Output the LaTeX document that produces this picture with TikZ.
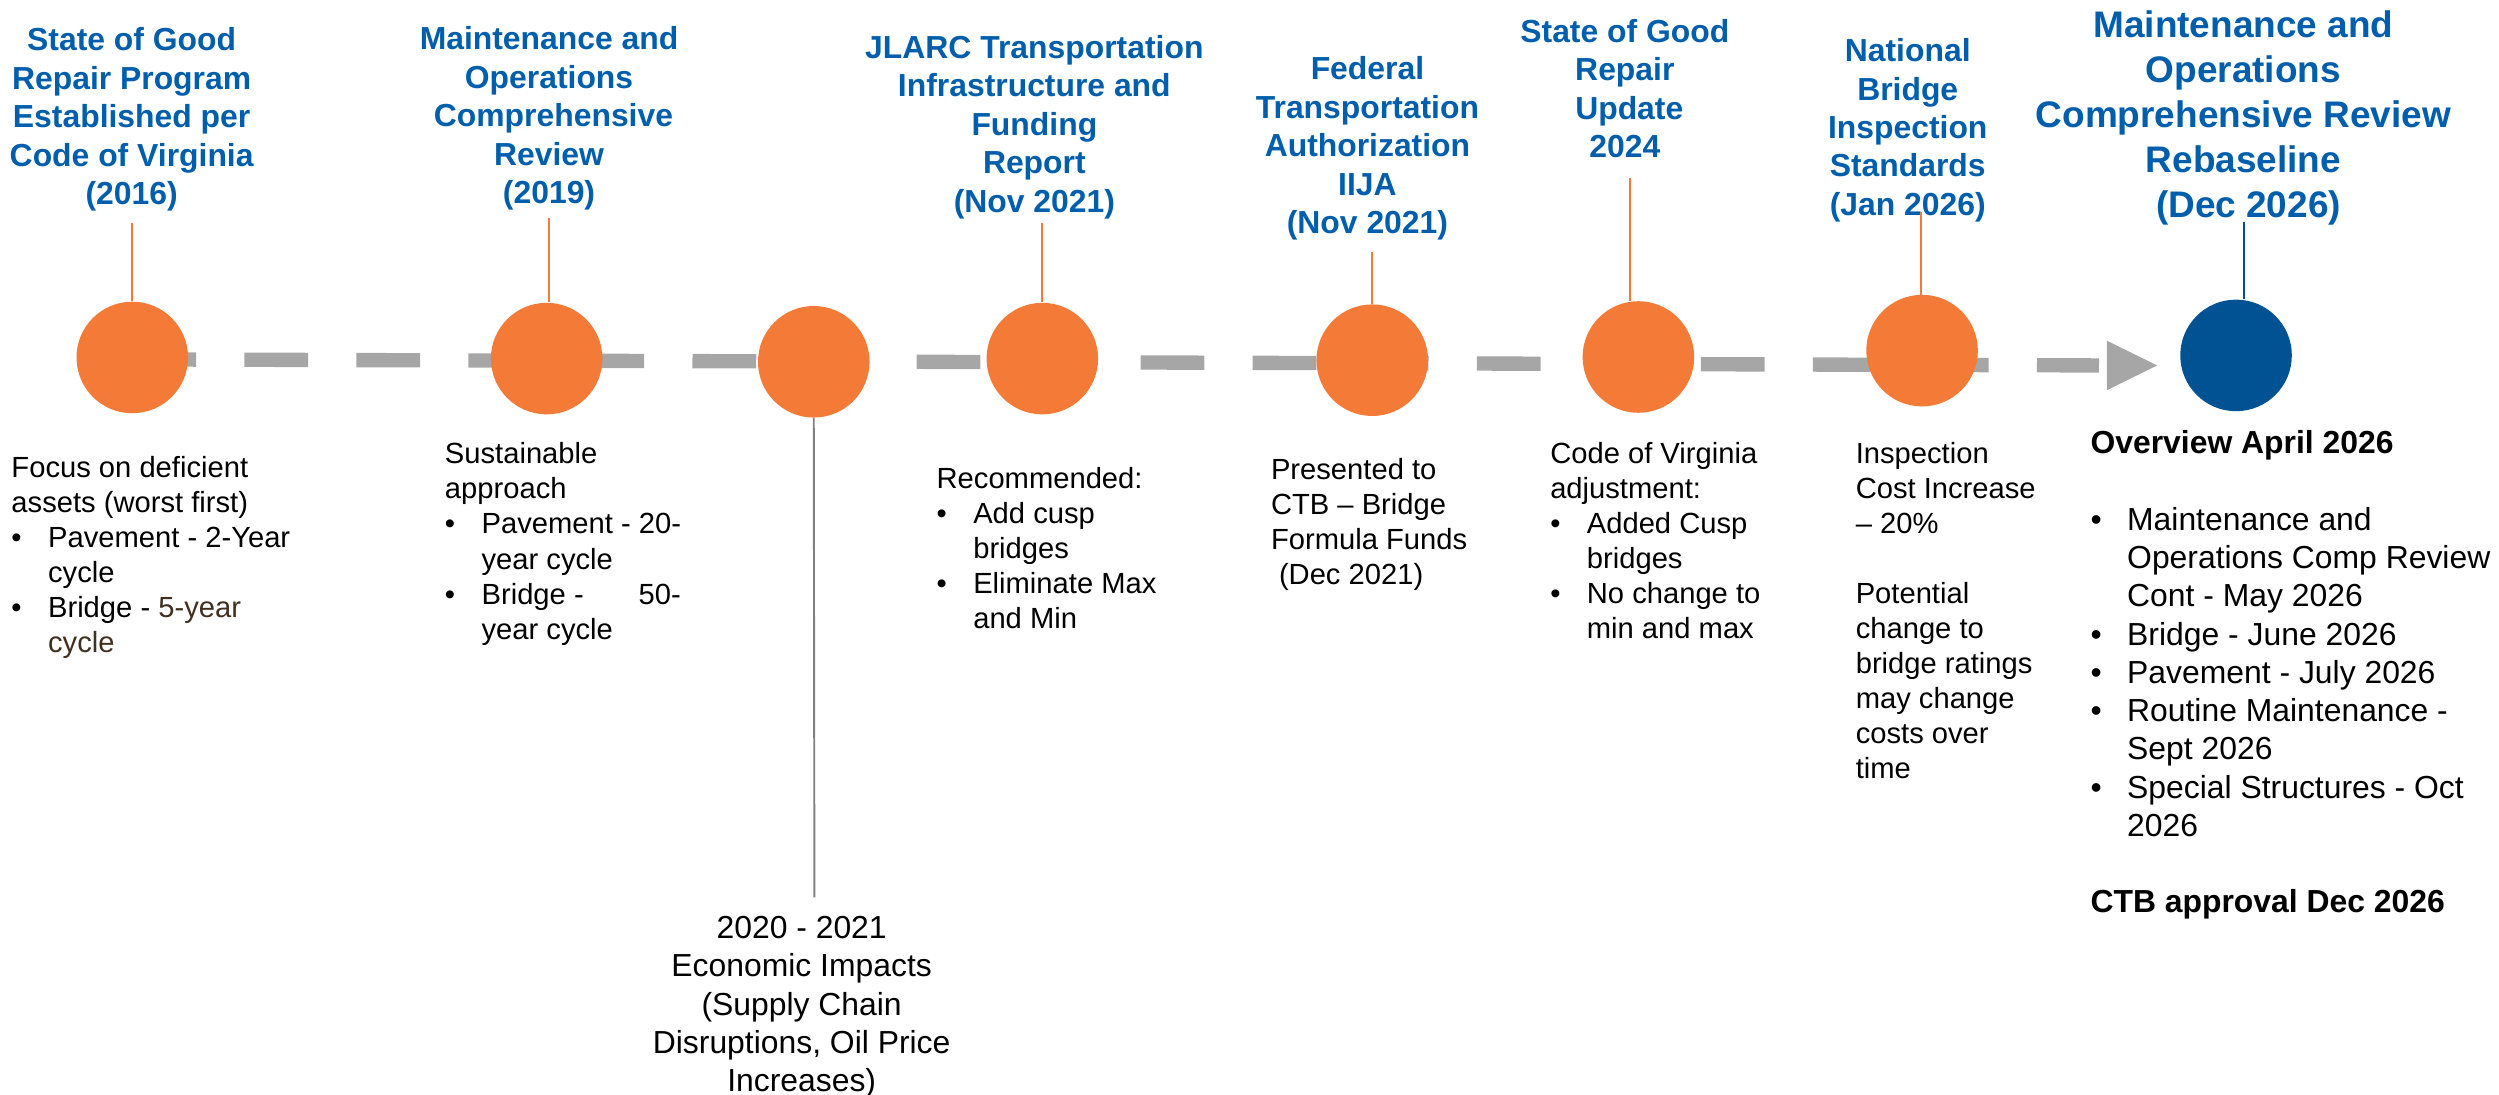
\documentclass[tikz,border=0pt]{standalone}
\usepackage{fontspec}
\setmainfont{Liberation Sans}
\definecolor{vorange}{RGB}{244,122,56}
\definecolor{vblue}{RGB}{0,82,147}
\definecolor{tblue}{RGB}{0,94,172}
\definecolor{tlgray}{RGB}{166,166,166}
\definecolor{stemgray}{RGB}{128,128,128}
\definecolor{vbrown}{RGB}{64,48,32}
\newcommand{\sa}{\rule{0pt}{0.8em}}
\newcommand{\lsp}{\hspace*{0.278em}}
\newcommand{\bitem}[1]{\makebox[23pt][l]{•}#1}
\newcommand{\cont}[1]{\hspace*{23pt}#1}
\tikzset{
  title/.style={font=\fontsize{20}{24.15}\selectfont\bfseries, text=tblue, align=center, anchor=north, inner sep=0pt},
  bigtitle/.style={font=\fontsize{23.2}{28.3}\selectfont\bfseries, text=tblue, align=center, anchor=north, inner sep=0pt},
  body/.style={font=\fontsize{18.3}{22}\selectfont, align=left, anchor=north west, inner sep=0pt},
  bodyL/.style={font=\fontsize{20}{24}\selectfont, align=left, anchor=north west, inner sep=0pt},
  bodyC/.style={font=\fontsize{20}{24}\selectfont, align=center, anchor=north, inner sep=0pt},
  dot/.style={circle, minimum size=70pt, inner sep=0pt, fill=vorange},
  stem/.style={vorange, line width=1.2pt},
  timeline/.style={tlgray, line width=9pt, dash pattern=on 40pt off 30.3pt},
}
\begin{document}
\begin{tikzpicture}[x=1pt,y=-1pt]
\useasboundingbox (0,0) rectangle (1568,687);
% timeline
\coordinate (tlA) at (83,225.5);
\coordinate (tlB) at (1317,229.3);
\draw[timeline] (tlA) -- (tlB);
\fill[tlgray] (tlB) ++(5,-15.5) -- ++(31.5,15.5) -- ++(-31.5,15.5) -- cycle;

% titles
\node[title] (t1) at (82.6,15.7) {\sa State of Good\\Repair Program\\Established per\\Code of Virginia\\(2016)};
\node[title] (t2) at (344.5,15) {\sa Maintenance and\\Operations\\\lsp Comprehensive\\Review\\(2019)};
\node[title] (t3) at (649,20.3) {\sa JLARC Transportation\\Infrastructure and\\Funding\\Report\\(Nov 2021)};
\node[title] (t4) at (858,33.8) {\sa Federal\\Transportation\\Authorization\\IIJA\\(Nov 2021)};
\node[title] (t5) at (1019.5,10.2) {\sa State of Good\\Repair\\\lsp Update\\2024};
\node[title] (t6) at (1197,22.4) {\sa National\\Bridge\\Inspection\\Standards\\(Jan 2026)};
\node[bigtitle] (t7) at (1407.6,4.6) {\sa Maintenance and\\Operations\\Comprehensive Review\\Rebaseline\\\lsp(Dec 2026)};

% stem tops
\coordinate (s1) at (82.6,140);
\coordinate (s2) at (344.5,137);
\coordinate (s3) at (654,140);
\coordinate (s4) at (861,158);
\coordinate (s5) at (1023,112);
\coordinate (s6) at (1205.6,133);
\coordinate (s7) at (1408,139);
\coordinate (s8) at (511,563);

% circles
\node[dot] (c1) at (83,224.3) {};
\node[dot] (c2) at (343,225) {};
\node[dot] (c3) at (510.6,227) {};
\node[dot] (c4) at (654,225) {};
\node[dot] (c5) at (861,226) {};
\node[dot] (c6) at (1028,224) {};
\node[dot] (c7) at (1206,220) {};
\node[dot, fill=vblue] (c8) at (1403,223) {};

% stems
\draw[stem] (s1) -- (s1 |- c1.north);
\draw[stem] (s2) -- (s2 |- c2.north);
\draw[stem] (s3) -- (s3 |- c4.north);
\draw[stem] (s4) -- (s4 |- c5.north);
\draw[stem] (s5) -- (s5 |- c6.north);
\draw[stem] (s6) -- (s6 |- c7.north);
\draw[vblue, line width=1.2pt] (s7) -- (s7 |- c8.north);
\draw[stemgray, line width=1.2pt] (c3.south) -- (s8);

% body texts
\node[body] (b1) at (7,284.6) {\sa Focus on deficient\\assets (worst first)\\\bitem{Pavement - 2-Year}\\\cont{cycle}\\\bitem{Bridge - \textcolor{vbrown}{5-year}}\\\cont{\textcolor{vbrown}{cycle}}};
\node[body] (b2) at (279,276.2) {\sa Sustainable\\approach\\\bitem{Pavement - 20-}\\\cont{year cycle}\\\bitem{\makebox[125pt][s]{Bridge -\hfill 50-}}\\\cont{year cycle}};
\node[body] (b3) at (587.5,291.8) {\sa Recommended:\\\bitem{Add cusp}\\\cont{bridges}\\\bitem{Eliminate Max}\\\cont{and Min}};
\node[body] (b4) at (797.3,285.8) {\sa Presented to\\CTB – Bridge\\Formula Funds\\\hspace*{5pt}(Dec 2021)};
\node[body] (b5) at (972.5,275.8) {\sa Code of Virginia\\adjustment:\\\bitem{Added Cusp}\\\cont{bridges}\\\bitem{No change to}\\\cont{min and max}};
\node[body] (b6) at (1164.2,275.8) {\sa Inspection\\Cost Increase\\– 20\%\\\mbox{}\\Potential\\change to\\bridge ratings\\may change\\costs over\\time};
\node[bodyL] (b7) at (1311.5,268.6) {\sa\textbf{Overview April 2026}\\\mbox{}\\\bitem{Maintenance and}\\\cont{Operations Comp Review}\\\cont{Cont - May 2026}\\\bitem{Bridge - June 2026}\\\bitem{Pavement - July 2026}\\\bitem{Routine Maintenance -}\\\cont{Sept 2026}\\\bitem{Special Structures - Oct}\\\cont{2026}\\\mbox{}\\\textbf{CTB approval Dec 2026}};
\node[bodyC] (b8) at (503,572.7) {\sa 2020 - 2021\\Economic Impacts\\(Supply Chain\\Disruptions, Oil Price\\Increases)};
\end{tikzpicture}
\end{document}
